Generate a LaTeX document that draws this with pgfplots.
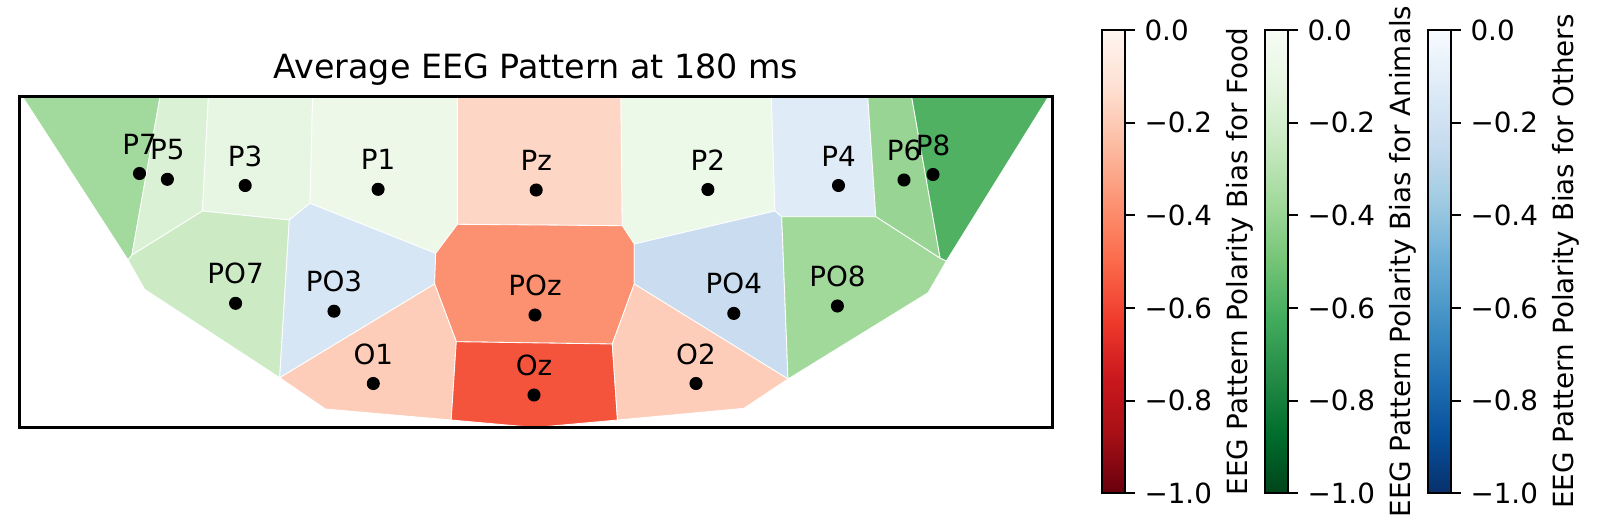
\documentclass[border=0pt]{standalone}
\usepackage{fontspec}
\setmainfont{DejaVu Sans}
\usepackage{pgfplots}
\pgfplotsset{compat=1.18}
\definecolor{cPz}{RGB}{253,214,197}
\definecolor{cO}{RGB}{253,205,185}
\definecolor{cPOz}{RGB}{252,145,113}
\definecolor{cOz}{RGB}{245,84,60}
\definecolor{cP1}{RGB}{237,248,233}
\definecolor{cP2}{RGB}{236,248,232}
\definecolor{cP3}{RGB}{231,246,226}
\definecolor{cP5}{RGB}{218,241,213}
\definecolor{cPO7}{RGB}{204,235,197}
\definecolor{cP7}{RGB}{162,217,156}
\definecolor{cPO8}{RGB}{161,217,155}
\definecolor{cP6}{RGB}{152,213,148}
\definecolor{cP8}{RGB}{80,177,99}
\definecolor{cP4}{RGB}{223,235,247}
\definecolor{cPO3}{RGB}{214,230,244}
\definecolor{cPO4}{RGB}{202,221,240}
\pgfplotsset{
  colormap={reds}{rgb255=(103,0,13) rgb255=(165,15,21) rgb255=(203,24,29) rgb255=(239,59,44) rgb255=(251,106,74) rgb255=(252,146,114) rgb255=(252,187,161) rgb255=(254,224,210) rgb255=(255,245,240)},
  colormap={greens}{rgb255=(0,68,27) rgb255=(0,109,44) rgb255=(35,139,69) rgb255=(65,171,93) rgb255=(116,196,118) rgb255=(161,217,155) rgb255=(199,233,192) rgb255=(229,245,224) rgb255=(247,252,245)},
  colormap={blues}{rgb255=(8,48,107) rgb255=(8,81,156) rgb255=(33,113,181) rgb255=(66,146,198) rgb255=(107,174,214) rgb255=(158,202,225) rgb255=(198,219,239) rgb255=(222,235,247) rgb255=(247,251,255)},
  cbarbase/.style={
    hide axis, scale only axis, width=0pt, height=0pt,
    xmin=0, xmax=1, ymin=0, ymax=1,
    point meta min=-1, point meta max=0,
    colorbar, colorbar shift/.style={},
    colorbar style={
      at={(parent axis.south west)}, anchor=south west,
      scale only axis, width=8.28pt, height=166.79pt,
      ytick={-1,-0.8,-0.6,-0.4,-0.2,0},
      yticklabels={−1.0,−0.8,−0.6,−0.4,−0.2,0.0},
      ytick pos=right, yticklabel pos=right, tick align=outside,
      major tick length=3.5pt,
      major tick style={black, line width=0.8pt},
      axis line style={black, line width=0.8pt},
      yticklabel style={font=\fontsize{10}{12}\selectfont, text=black},
      ylabel style={font=\fontsize{10}{12}\selectfont, inner sep=1.5pt},
      #1
    }
  }
}
\begin{document}
\begin{tikzpicture}
\useasboundingbox (0,0) rectangle (576.36pt,190.8pt);
\begin{axis}[
  at={(7.056pt,36.9pt)}, anchor=south west,
  scale only axis, width=371.84pt, height=119.16pt,
  xmin=19.6, xmax=1052.5, ymin=96.5, ymax=427.5, y dir=reverse,
  xtick=\empty, ytick=\empty, axis on top,
  axis line style={black, line width=0.8pt},
  title={Average EEG Pattern at 180 ms},
  title style={font=\fontsize{12}{14.4}\selectfont, anchor=base, yshift=0.5pt},
]
\pgfplotsset{poly/.style={fill=#1, draw=white, line width=0.3pt}}
\addplot[poly=cP7] coordinates {(22.4,96.5) (160.1,96.5) (131.9,255) (128.1,260)} -- cycle;
\addplot[poly=cP5] coordinates {(160.1,96.5) (208.4,96.5) (202.5,211) (131.9,255)} -- cycle;
\addplot[poly=cP3] coordinates {(208.4,96.5) (312.7,96.5) (310,203.3) (289.3,220) (202.5,211)} -- cycle;
\addplot[poly=cP1] coordinates {(312.7,96.5) (457.4,96.5) (457.4,224.3) (435.7,253.3) (310,203.3)} -- cycle;
\addplot[poly=cPz] coordinates {(457.4,96.5) (620.9,96.5) (622.3,225.7) (457.4,224.3)} -- cycle;
\addplot[poly=cP2] coordinates {(620.9,96.5) (771.4,96.5) (774.9,211) (634.3,244) (622.3,225.7)} -- cycle;
\addplot[poly=cP4] coordinates {(771.4,96.5) (867.8,96.5) (875.8,216.7) (781.7,216.7) (774.9,211)} -- cycle;
\addplot[poly=cP6] coordinates {(867.8,96.5) (911.6,96.5) (940.2,258.3) (875.8,216.7)} -- cycle;
\addplot[poly=cP8] coordinates {(911.6,96.5) (1048.6,96.5) (946.4,261) (940.2,258.3)} -- cycle;
\addplot[poly=cPO7] coordinates {(131.9,255) (202.5,211) (289.3,220) (279.7,377.7) (144.6,289.3) (128.1,260)} -- cycle;
\addplot[poly=cPO3] coordinates {(289.3,220) (310,203.3) (435.7,253.3) (434.6,284) (279.7,377.7)} -- cycle;
\addplot[poly=cPOz] coordinates {(457.4,224.3) (622.3,225.7) (634.3,244) (634.3,284) (612.3,344) (456.3,341.7) (434.6,284) (435.7,253.3)} -- cycle;
\addplot[poly=cPO4] coordinates {(634.3,244) (774.9,211) (781.7,216.7) (788,379) (634.3,284)} -- cycle;
\addplot[poly=cPO8] coordinates {(781.7,216.7) (875.8,216.7) (940.2,258.3) (946.4,261) (928.1,292.7) (788,379)} -- cycle;
\addplot[poly=cO] coordinates {(279.7,377.7) (434.6,284) (456.3,341.7) (451.2,420) (325.5,409)} -- cycle;
\addplot[poly=cOz] coordinates {(456.3,341.7) (612.3,344) (617.5,420) (535,427.5) (451.2,420)} -- cycle;
\addplot[poly=cO] coordinates {(634.3,284) (788,379) (743.9,408.3) (617.5,420) (612.3,344)} -- cycle;
\addplot[only marks, mark=*, mark size=2.15pt, black,
  point meta=explicit symbolic, nodes near coords,
  every node near coord/.append style={anchor=base, yshift=7pt, inner sep=0pt, font=\fontsize{10}{12}\selectfont, text=black}]
  table[meta=label] {
x y label
139.5 173.5 P7
167.4 179.3 P5
245.2 185.5 P3
378.1 189.3 P1
536.2 190 Pz
707.9 189.5 P2
838.5 185.5 P4
904 180 P6
933 174.5 P8
235.6 303.3 PO7
334 311.2 PO3
535 315 POz
733.8 313.4 PO4
837.4 306 PO8
373.3 383.5 O1
534 395 Oz
696 383.5 O2
};
\end{axis}
\begin{axis}[at={(396.72pt,13.21pt)}, anchor=south west, colormap name=reds,
  cbarbase={ylabel={EEG Pattern Polarity Bias for Food}}]
\addplot[draw=none] coordinates {(0,0)};
\end{axis}
\begin{axis}[at={(455.4pt,13.21pt)}, anchor=south west, colormap name=greens,
  cbarbase={ylabel={EEG Pattern Polarity Bias for Animals}}]
\addplot[draw=none] coordinates {(0,0)};
\end{axis}
\begin{axis}[at={(514.08pt,13.21pt)}, anchor=south west, colormap name=blues,
  cbarbase={ylabel={EEG Pattern Polarity Bias for Others}}]
\addplot[draw=none] coordinates {(0,0)};
\end{axis}
\end{tikzpicture}
\end{document}
